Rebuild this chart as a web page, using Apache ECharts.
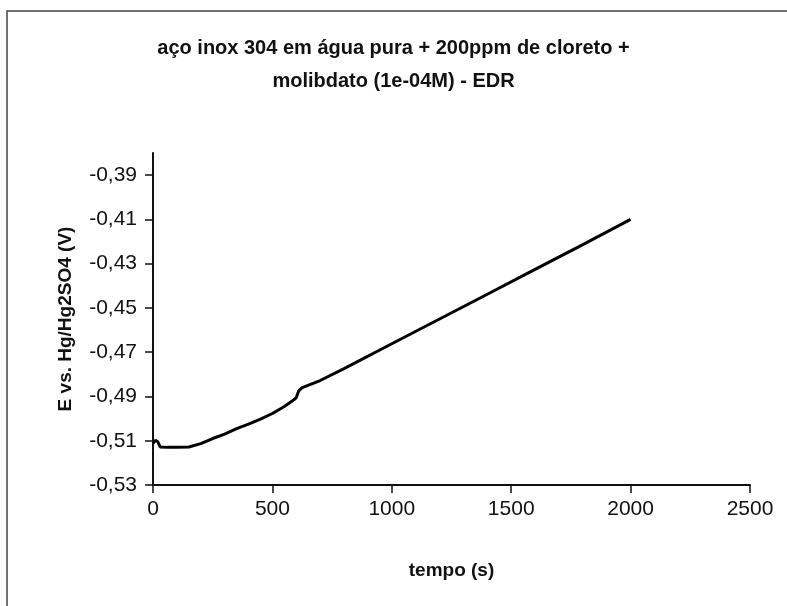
<!DOCTYPE html>
<html>
<head>
<meta charset="utf-8">
<script src="https://cdn.jsdelivr.net/npm/echarts@6/dist/echarts.min.js"></script>
<style>
html,body{margin:0;padding:0;background:#fff;}
#chart{width:787px;height:606px;}
</style>
</head>
<body>
<div id="chart"></div>
<script>
// Data
var titleLines = ['aço inox 304 em água pura + 200ppm de cloreto +', 'molibdato (1e-04M) - EDR'];
var timeValues = [0, 10, 20, 30, 60, 100, 150, 200, 250, 300, 350, 400, 450, 500, 550, 590, 600, 610, 625, 700, 800, 1000, 1200, 1400, 1600, 1800, 2000];
var potentialValues = [-0.5112, -0.5098, -0.5105, -0.5128, -0.5130, -0.5130, -0.5128, -0.5113, -0.5090, -0.5070, -0.5045, -0.5025, -0.5002, -0.4977, -0.4945, -0.4915, -0.4905, -0.4875, -0.4860, -0.4828, -0.4774, -0.4662, -0.4550, -0.4438, -0.4326, -0.4214, -0.4100];
var yTickValues = [-0.53, -0.51, -0.49, -0.47, -0.45, -0.43, -0.41, -0.39];
var xName = 'tempo (s)';
var yName = 'E vs. Hg/Hg2SO4 (V)';

var seriesData = timeValues.map(function (t, i) { return [t, potentialValues[i]]; });
var font = 'Liberation Sans, Arial, sans-serif';

var chart = echarts.init(document.getElementById('chart'), null, {renderer: 'canvas'});
chart.setOption({
  backgroundColor: '#ffffff',
  animation: false,
  title: {
    text: titleLines.join('\n'),
    left: 'center',
    top: 27,
    textStyle: {fontFamily: font, fontSize: 20, fontWeight: 'bold', color: '#111', lineHeight: 33}
  },
  graphic: [{
    type: 'rect',
    shape: {x: 7, y: 11, width: 800, height: 620},
    style: {fill: 'none', stroke: '#444', lineWidth: 1.5},
    silent: true
  }],
  grid: {left: 153, right: 37, top: 153, bottom: 121, containLabel: false},
  xAxis: {
    type: 'value',
    min: 0, max: 2500, interval: 500,
    name: xName, nameLocation: 'middle', nameGap: 76,
    nameTextStyle: {fontFamily: font, fontSize: 19, fontWeight: 'bold', color: '#111'},
    axisLine: {show: true, onZero: false, lineStyle: {color: '#111', width: 2}},
    axisTick: {show: true, length: 8, lineStyle: {color: '#111', width: 1.5}},
    axisLabel: {
      fontFamily: font, fontSize: 21, color: '#111', margin: 14,
      formatter: function (v) { return String(Math.round(v)); }
    },
    splitLine: {show: false}
  },
  yAxis: {
    type: 'value',
    min: -0.53, max: -0.38, interval: 0.02,
    name: yName, nameLocation: 'middle', nameGap: 78,
    nameTextStyle: {fontFamily: font, fontSize: 19, fontWeight: 'bold', color: '#111'},
    axisLine: {show: true, onZero: false, lineStyle: {color: '#111', width: 2}},
    axisTick: {show: true, length: 8, customValues: yTickValues, lineStyle: {color: '#111', width: 1.5}},
    axisLabel: {
      fontFamily: font, fontSize: 21, color: '#111', margin: 16,
      customValues: yTickValues,
      formatter: function (v) { return v.toFixed(2).replace('.', ','); }
    },
    splitLine: {show: false}
  },
  series: [{
    type: 'line',
    data: seriesData,
    showSymbol: false,
    smooth: false,
    lineStyle: {color: '#000', width: 3}
  }]
});
</script>
</body>
</html>
